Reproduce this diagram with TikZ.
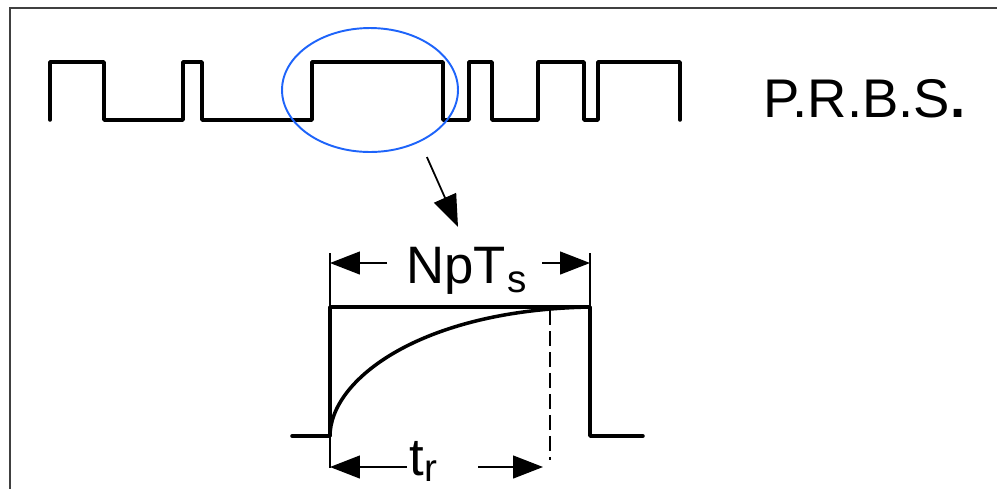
\documentclass[tikz,border=0pt]{standalone}
\usepackage{fontspec}
\setmainfont{Liberation Sans}
\usetikzlibrary{arrows.meta,shapes.geometric}
\definecolor{prbsblue}{RGB}{30,100,250}
\tikzset{
  wave/.style={line width=2pt,line join=round,line cap=round},
  guide/.style={line width=0.75pt},
  dimarrow/.style={line width=0.75pt,-{Triangle[length=0.6cm,width=0.46cm]}},
  bigarrow/.style={line width=1pt,-{Triangle[length=0.64cm,width=0.48cm]}},
  label/.style={inner sep=0pt,font=\fontsize{30}{30}\selectfont}
}
\begin{document}
\begin{tikzpicture}[x=0.02cm,y=-0.02cm]
\useasboundingbox (0,0) rectangle (997,488);
\draw[line width=1.2pt,draw=black!75] (10,500) -- (10,8) -- (1010,8);
% pseudo random binary sequence
\draw[wave] (50,120) |- (104,62) |- (183,120) |- (202,62) |- (312,120) |- (443,62) |- (469,120) |- (492,62) |- (538,120) |- (584,62) |- (598,120) |- (680,62) -- (680,120);
\node[anchor=base west,inner sep=0pt,font=\fontsize{31}{31}\selectfont] (prbs) at (763,117) {P.R.B.S\kern0.5pt\textbf{.}};
\node[ellipse,draw=prbsblue,line width=1.1pt,minimum width=3.52cm,minimum height=2.48cm,inner sep=0pt] (zoom) at (370,90) {};
\coordinate (tip) at (458,227);
\draw[bigarrow,shorten <=0.33cm] (zoom.-46) -- (tip);
% one pulse and its response
\draw[wave] (292,436) -- (330,436) -- (330,307) -- (590,307) -- (590,436) -- (643,436);
\draw[wave] (330,436) .. controls (330,380) and (420,310) .. (590,307);
\draw[guide] (330,253) -- (330,468);
\draw[guide] (590,253) -- (590,307);
\draw[guide,dash pattern=on 0.3cm off 0.12cm] (550,310) -- (550,460);
\node[label,anchor=base west] (np) at (406,283) {NpT\kern1pt\raisebox{-0.18cm}{\fontsize{22}{22}\selectfont s}};
\coordinate (npL) at (330,263);
\coordinate (npR) at (590,263);
\draw[dimarrow] (387,263) -- (npL);
\draw[dimarrow] (542,263) -- (npR);
\node[label,anchor=base west] (tr) at (409,475) {t\raisebox{-0.12cm}{\fontsize{22}{22}\selectfont r}};
\coordinate (trL) at (330,467);
\coordinate (trR) at (543,467);
\draw[dimarrow] (407,467) -- (trL);
\draw[dimarrow] (478,467) -- (trR);
\end{tikzpicture}
\end{document}
